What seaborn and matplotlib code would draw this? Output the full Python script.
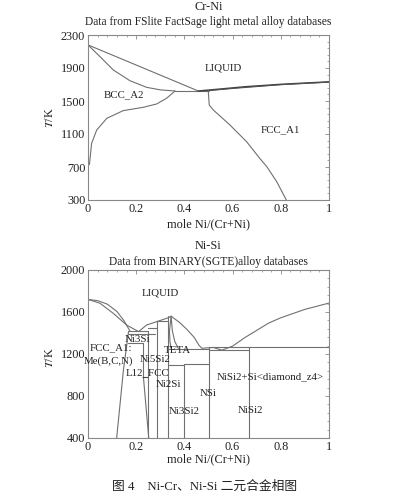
import numpy as np
import matplotlib
matplotlib.use('Agg')
import matplotlib.pyplot as plt
import seaborn as sns
from matplotlib.ticker import AutoMinorLocator, FixedLocator

# ---------------- Cr-Ni data ----------------
crni_liq_cr_x = [0.0, 0.458]
crni_liq_cr_T = [2180, 1621]
crni_bcc_sol_x = [0.0, 0.05, 0.105, 0.174, 0.243, 0.30, 0.361]
crni_bcc_sol_T = [2180, 2037, 1876, 1746, 1666, 1635, 1621]
crni_eut_x = [0.361, 0.50]
crni_eut_T = [1621, 1621]
crni_bcc_solvus_x = [0.361, 0.326, 0.285, 0.23, 0.146, 0.078, 0.036, 0.015, 0.008, 0.006]
crni_bcc_solvus_T = [1621, 1533, 1464, 1424, 1383, 1290, 1148, 987, 790, 730]
crni_liq_ni_x = [0.458, 0.55, 0.65, 0.80, 1.0]
crni_liq_ni_T = [1621, 1645, 1672, 1702, 1732]
crni_sol_ni_x = [0.50, 0.60, 0.80, 1.0]
crni_sol_ni_T = [1626, 1652, 1698, 1729]
crni_fcc_solvus_x = [0.499, 0.503, 0.52, 0.589, 0.658, 0.714, 0.742, 0.783, 0.823]
crni_fcc_solvus_T = [1621, 1452, 1391, 1209, 1007, 800, 704, 522, 300]
crni_labels = ["LIQUID", "BCC_A2", "FCC_A1"]
crni_label_x = [0.56, 0.15, 0.80]
crni_label_T = [1896, 1573, 1148]
crni_yticks = [300, 700, 1100, 1500, 1900, 2300]

# ---------------- Ni-Si data ----------------
nisi_liq1_x = [0.0, 0.04, 0.08, 0.12, 0.15, 0.175]
nisi_liq1_T = [1720, 1708, 1675, 1605, 1515, 1415]
nisi_liq2_x = [0.0, 0.05, 0.105, 0.16, 0.21]
nisi_liq2_T = [1720, 1683, 1587, 1476, 1413]
nisi_liq3_x = [0.21, 0.243, 0.285, 0.333, 0.345, 0.38, 0.41, 0.44, 0.46, 0.472,
               0.52, 0.556, 0.60, 0.65, 0.70, 0.75, 0.80, 0.90, 1.0]
nisi_liq3_T = [1413, 1476, 1508, 1545, 1560, 1500, 1435, 1360, 1285, 1255,
               1262, 1237, 1275, 1355, 1425, 1495, 1545, 1625, 1685]
nisi_fcc_x = [0.168, 0.147, 0.119]
nisi_fcc_T = [1410, 1048, 400]
nisi_l12_x = [0.23, 0.252]
nisi_l12_T = [980, 400]
nisi_teta_a_x = [0.345, 0.35, 0.36, 0.375]
nisi_teta_a_T = [1560, 1420, 1320, 1252]
nisi_teta_b_x = [0.345, 0.338, 0.34, 0.345]
nisi_teta_b_T = [1560, 1420, 1320, 1252]
# horizontal invariant lines: x-start, x-end, temperature
nisi_h_x0 = [0.168, 0.168, 0.168, 0.25, 0.23, 0.285, 0.333, 0.333, 0.40, 0.50, 0.50]
nisi_h_x1 = [0.25, 0.278, 0.23, 0.285, 0.25, 0.333, 0.50, 0.40, 0.50, 1.0, 0.667]
nisi_h_T = [1415, 1395, 1300, 1445, 980, 1515, 1252, 1093, 1109, 1268, 1240]
# vertical compound lines: composition, T-low, T-high
nisi_v_x = [0.23, 0.25, 0.285, 0.333, 0.40, 0.50, 0.667]
nisi_v_T0 = [980, 400, 400, 400, 400, 400, 400]
nisi_v_T1 = [1300, 1415, 1515, 1560, 1109, 1268, 1268]
nisi_labels = ["LIQUID", "FCC_A1:", "Me(B,C,N)", "Ni3Si", "Ni5Si2", "L12_FCC", "TETA",
               "Ni2Si", "NSi", "Ni3Si2", "NiSi2+Si<diamond_z4>", "NiSi2"]
nisi_label_x = [0.30, 0.093, 0.086, 0.205, 0.279, 0.245, 0.37, 0.334, 0.50, 0.40, 0.755, 0.673]
nisi_label_T = [1784, 1255, 1135, 1338, 1147, 1020, 1230, 912, 823, 648, 982, 658]
nisi_yticks = [400, 800, 1200, 1600, 2000]

x_ticks = [0, 0.2, 0.4, 0.6, 0.8, 1.0]
x_ticklabels = ['0', '0.2', '0.4', '0.6', '0.8', '1']

# ---------------- style ----------------
sns.set_style("white")
plt.rcParams['font.family'] = ['Liberation Serif', 'Noto Sans CJK SC']
plt.rcParams['mathtext.fontset'] = 'stix'
LC = '#707070'
LW = 0.8
FS = 8.8

fig = plt.figure(figsize=(3.94, 4.98), dpi=100)
ax1 = fig.add_axes([88/394, 1-200/498, 241/394, 165/498])
ax2 = fig.add_axes([88/394, 1-438/498, 241/394, 168/498])


def curve(ax, x, y, lw=LW, color=LC):
    sns.lineplot(x=x, y=y, ax=ax, color=color, lw=lw, sort=False, estimator=None)


# Cr-Ni
curve(ax1, crni_liq_cr_x, crni_liq_cr_T)
curve(ax1, crni_bcc_sol_x, crni_bcc_sol_T)
curve(ax1, crni_eut_x, crni_eut_T)
curve(ax1, crni_bcc_solvus_x, crni_bcc_solvus_T)
curve(ax1, crni_liq_ni_x, crni_liq_ni_T, lw=1.1, color='#404040')
curve(ax1, crni_sol_ni_x, crni_sol_ni_T, lw=0.8, color='#505050')
curve(ax1, crni_fcc_solvus_x, crni_fcc_solvus_T)
for s, x, t in zip(crni_labels, crni_label_x, crni_label_T):
    ax1.text(x, t, s, ha='center', va='center', fontsize=7.8, color='#222222')

# Ni-Si
curve(ax2, nisi_liq1_x, nisi_liq1_T)
curve(ax2, nisi_liq2_x, nisi_liq2_T)
curve(ax2, nisi_liq3_x, nisi_liq3_T)
curve(ax2, nisi_fcc_x, nisi_fcc_T)
curve(ax2, nisi_l12_x, nisi_l12_T)
curve(ax2, nisi_teta_a_x, nisi_teta_a_T)
curve(ax2, nisi_teta_b_x, nisi_teta_b_T)
for a, b, t in zip(nisi_h_x0, nisi_h_x1, nisi_h_T):
    curve(ax2, [a, b], [t, t])
for x, t0, t1 in zip(nisi_v_x, nisi_v_T0, nisi_v_T1):
    curve(ax2, [x, x], [t0, t1])
for s, x, t in zip(nisi_labels, nisi_label_x, nisi_label_T):
    ax2.text(x, t, s, ha='center', va='center', fontsize=7.8, color='#222222')

# axes formatting
for ax, yt in [(ax1, crni_yticks), (ax2, nisi_yticks)]:
    ax.set_xlim(0, 1)
    ax.set_ylim(yt[0], yt[-1])
    ax.set_xticks(x_ticks)
    ax.set_xticklabels(x_ticklabels)
    ax.set_yticks(yt)
    ax.set_yticklabels([str(v) for v in yt])
    ax.xaxis.set_minor_locator(AutoMinorLocator(5))
    ax.yaxis.set_minor_locator(FixedLocator(np.arange(yt[0], yt[-1] + 1, 80)))
    ax.tick_params(which='both', direction='in', top=True, right=True,
                   color='#888888', labelsize=FS, labelcolor='#222222')
    ax.tick_params(which='major', length=3, width=0.6, pad=2)
    ax.tick_params(which='minor', length=1.5, width=0.5)
    for sp in ax.spines.values():
        sp.set_color('#888888')
        sp.set_linewidth(0.8)
    ax.set_xlabel('')
    ax.set_ylabel('')

cx = (88 + 329) / 2 / 394
tc = '#222222'
fig.text(cx, 1 - 7/498, 'Cr-Ni', ha='center', va='center', fontsize=8.8, color=tc)
fig.text(cx, 1 - 22/498, 'Data from FSlite FactSage light metal alloy databases',
         ha='center', va='center', fontsize=8.3, color=tc)
fig.text(cx, 1 - 224/498, 'mole Ni/(Cr+Ni)', ha='center', va='center', fontsize=8.8, color=tc)
fig.text(50/394, 1 - 118/498, r'$T$/K', ha='center', va='center', rotation=90, fontsize=8.8, color=tc)

fig.text(cx, 1 - 246/498, 'Ni-Si', ha='center', va='center', fontsize=8.8, color=tc)
fig.text(cx, 1 - 261.5/498, 'Data from BINARY(SGTE)alloy databases',
         ha='center', va='center', fontsize=8.3, color=tc)
fig.text(cx, 1 - 459/498, 'mole Ni/(Cr+Ni)', ha='center', va='center', fontsize=8.8, color=tc)
fig.text(50/394, 1 - 358/498, r'$T$/K', ha='center', va='center', rotation=90, fontsize=8.8, color=tc)

fig.text(cx - 0.01, 1 - 487/498, '图 4    Ni-Cr、Ni-Si 二元合金相图', ha='center', va='center',
         fontsize=9.2, color=tc)

fig.savefig('out.png', dpi=100)
